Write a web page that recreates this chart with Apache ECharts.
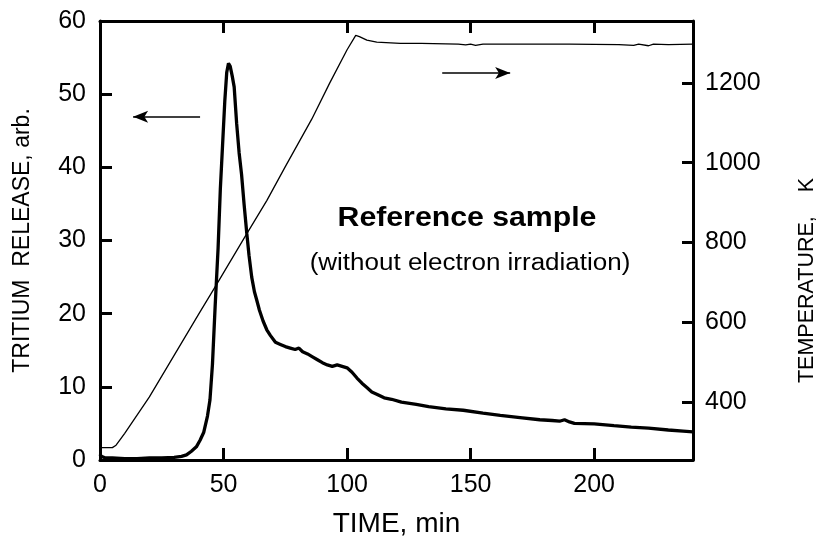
<!DOCTYPE html>
<html style="height: 100%">
<head>
<meta charset="UTF-8" />
<title>Tritium release - reference sample</title>
<style>
html, body { margin: 0; padding: 0; background: #ffffff; }
#chartBox { width: 818px; height: 542px; }
</style>
</head>
<body>
	<div id="chartBox"></div>

	<script src="https://cdn.jsdelivr.net/npm/echarts@6/dist/echarts.min.js"></script>
	<script>
		// tritium release (time in min, release in arb.)
		var tritiumTime = [0, 0.5, 1, 2, 5, 10, 15, 20, 25, 30, 33, 35, 37, 39, 40.5, 42, 43.5, 44.5, 45.5, 46.6,
			47.8, 48.7, 49.6, 50.5, 51.3, 52, 52.7, 53.5, 54.3, 55.3, 56.3, 57.3, 58.3, 59.4, 60.3, 61.4, 62.5,
			63.4, 64.5, 66, 67.5, 69, 71, 73, 75, 77, 79, 80.5, 82, 84, 86, 88, 90, 92, 94, 96, 98, 100, 102,
			104, 106, 108, 110, 112, 115, 118, 122, 128, 133, 140, 147, 155, 162, 170, 178, 183, 186, 188, 190,
			192, 200, 208, 215, 222, 230, 236, 240];
		var tritiumValue = [0.8, 0.5, 0.6, 0.3, 0.3, 0.2, 0.2, 0.3, 0.3, 0.35, 0.5, 0.7, 1.2, 1.8, 2.7, 3.8, 6, 8.2, 13, 21,
			29, 37, 43, 49, 53, 54.2, 53.8, 52.5, 51, 46, 42, 39, 35, 31, 28, 25, 23,
			21.9, 20.5, 19, 17.8, 17, 16.1, 15.8, 15.5, 15.3, 15.1, 15.3, 14.8, 14.5, 14.1, 13.7, 13.3, 13.0, 12.8, 13.0, 12.8, 12.6, 12.0,
			11.2, 10.5, 9.9, 9.3, 9.0, 8.5, 8.3, 7.9, 7.6, 7.3, 7.0, 6.8, 6.4, 6.1, 5.8, 5.5, 5.4, 5.3, 5.5, 5.2,
			5.0, 4.95, 4.7, 4.5, 4.35, 4.1, 3.95, 3.85];

		// temperature programme (time in min, temperature in K)
		var tempTime = [0, 5, 6.5, 8, 10, 20, 30, 40, 46.6, 59, 67.5, 75, 85.7, 93, 100, 103.5, 105, 108, 112, 121.5,
			130, 145, 148, 150, 152, 155, 170, 190, 210, 216, 218, 222, 224, 230, 240];
		var tempValue = [286, 286, 292, 305, 322, 413, 517, 621, 689, 818, 905, 990, 1109, 1200, 1283, 1319, 1316, 1307, 1302, 1299,
			1299, 1297, 1295, 1297, 1294, 1297, 1297, 1297, 1296, 1294, 1297, 1293, 1297, 1296, 1297];

		// labelled ticks
		var timeLabels = [0, 50, 100, 150, 200];
		var tempLabels = [400, 600, 800, 1000, 1200];

		var pairs = function(xs, ys) {
			var res = [];
			for (var i = 0; i < xs.length; i++) {
				res.push([xs[i], ys[i]]);
			}
			return res;
		};
		var onlyIn = function(list) {
			return function(v) {
				return list.indexOf(v) >= 0 ? String(v) : '';
			};
		};

		var fontName = 'Liberation Sans, Arial, Helvetica, sans-serif';
		var ink = '#000000';
		// axis frame: thick line, ticks pointing into the plot (fresh object per axis)
		// onZero has to be off for the top / right axes, or they slide onto the zero of the other axis
		var frameLine = function(onZero) {
			return { show : true, onZero : onZero, lineStyle : { color : ink, width : 3 } };
		};
		var frameTick = function(len) {
			return { show : true, inside : true, length : len, lineStyle : { color : ink, width : 3 } };
		};

		var myChart = echarts.init(document.getElementById('chartBox'));
		var option = {
			backgroundColor : '#ffffff',
			animation : false,
			grid : {
				left : 100,
				right : 125,
				top : 21,
				bottom : 82,
				containLabel : false,
				outerBoundsMode : 'none'
			},
			xAxis : [ {
				type : 'value',
				position : 'bottom',
				min : 0,
				max : 240,
				splitNumber : 5,
				name : 'TIME, min',
				nameLocation : 'middle',
				nameGap : 50,
				nameTextStyle : {
					color : ink,
					fontSize : 28,
					fontFamily : fontName
				},
				axisLine : frameLine(true),
				axisTick : frameTick(12),
				axisLabel : {
					formatter : onlyIn(timeLabels),
					color : ink,
					fontSize : 25,
					fontFamily : fontName,
					margin : 13
				},
				splitLine : { show : false }
			}, {
				type : 'value',
				position : 'top',
				min : 0,
				max : 240,
				splitNumber : 5,
				axisLine : frameLine(false),
				axisTick : frameTick(12),
				axisLabel : { show : false },
				splitLine : { show : false }
			} ],
			yAxis : [ {
				type : 'value',
				position : 'left',
				min : 0,
				max : 60,
				interval : 10,
				name : 'TRITIUM  RELEASE, arb.',
				nameLocation : 'middle',
				nameRotate : 90,
				nameGap : 66,
				nameTextStyle : {
					color : ink,
					fontSize : 23,
					fontFamily : fontName
				},
				axisLine : frameLine(true),
				axisTick : frameTick(12),
				axisLabel : {
					color : ink,
					fontSize : 25,
					fontFamily : fontName,
					margin : 14
				},
				splitLine : { show : false }
			}, {
				type : 'value',
				position : 'right',
				min : 255,
				max : 1355,
				splitNumber : 5,
				name : 'TEMPERATURE,    K',
				nameLocation : 'middle',
				nameRotate : 90,
				nameGap : 103,
				nameTextStyle : {
					color : ink,
					fontSize : 21.5,
					fontFamily : fontName,
					padding : [ 0, 80, 0, 0 ]
				},
				axisLine : frameLine(false),
				axisTick : frameTick(11),
				axisLabel : {
					formatter : onlyIn(tempLabels),
					color : ink,
					fontSize : 25,
					fontFamily : fontName,
					margin : 12
				},
				splitLine : { show : false }
			} ],
			graphic : [ {
				type : 'text',
				x : 467,
				y : 219,
				scaleX : 1.12,
				style : {
					text : 'Reference sample',
					fill : ink,
					fontSize : 27,
					fontWeight : 'bold',
					fontFamily : fontName,
					align : 'center',
					verticalAlign : 'middle'
				}
			}, {
				type : 'text',
				x : 470,
				y : 264,
				scaleX : 1.13,
				style : {
					text : '(without electron irradiation)',
					fill : ink,
					fontSize : 23,
					fontFamily : fontName,
					align : 'center',
					verticalAlign : 'middle'
				}
			} ],
			series : [ {
				name : 'tritium',
				type : 'line',
				xAxisIndex : 0,
				yAxisIndex : 0,
				data : pairs(tritiumTime, tritiumValue),
				showSymbol : false,
				lineStyle : { color : ink, width : 3.3 },
				z : 3,
				markLine : {
					silent : true,
					symbol : [ 'none', 'arrow' ],
					symbolSize : [ 9, 15 ],
					label : { show : false },
					lineStyle : { color : ink, width : 1.5, type : 'solid' },
					data : [ [ { coord : [ 40.5, 46.9 ] }, { coord : [ 13.4, 46.9 ] } ] ]
				}
			}, {
				name : 'temperature',
				type : 'line',
				xAxisIndex : 0,
				yAxisIndex : 1,
				data : pairs(tempTime, tempValue),
				showSymbol : false,
				lineStyle : { color : ink, width : 1.3 },
				z : 2,
				markLine : {
					silent : true,
					symbol : [ 'none', 'arrow' ],
					symbolSize : [ 9, 15 ],
					label : { show : false },
					lineStyle : { color : ink, width : 1.5, type : 'solid' },
					data : [ [ { coord : [ 138.5, 1225 ] }, { coord : [ 166, 1225 ] } ] ]
				}
			} ]
		};
		myChart.setOption(option);
	</script>
</body>
</html>
